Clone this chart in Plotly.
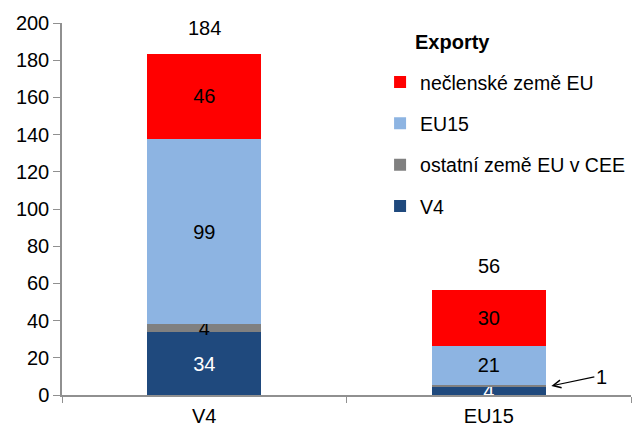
import plotly.graph_objects as go

categories = ["V4", "EU15"]
series_names = ["V4", "ostatní země EU v CEE", "EU15", "nečlenské země EU"]
v4_values = [33.8, 4.3]
other_cee_values = [4.4, 1.1]
eu15_values = [99.3, 21.2]
non_eu_values = [46.1, 29.8]
totals = [184, 56]
colors = ["#1F497D", "#808080", "#8DB4E2", "#FF0000"]
label_colors = ["white", "black", "black", "black"]
legend_ranks = [4, 3, 2, 1]
y_ticks = [0, 20, 40, 60, 80, 100, 120, 140, 160, 180, 200]

series_values = [v4_values, other_cee_values, eu15_values, non_eu_values]
FONT = "Liberation Sans, Arial, sans-serif"
FS = 20

fig = go.Figure()
for name, vals, col, lc, rk in zip(series_names, series_values, colors, label_colors, legend_ranks):
    texts = [f"{round(v):d}" for v in vals]
    if name == "ostatní země EU v CEE":
        texts = [texts[0], ""]
    fig.add_trace(go.Bar(
        x=categories, y=vals, name=name, marker_color=col,
        marker_line_width=0,
        text=texts, textposition="inside", insidetextanchor="middle",
        constraintext="none", cliponaxis=False, textangle=0,
        textfont=dict(family=FONT, size=FS, color=lc),
        legendgroup=name, legendrank=rk, width=0.4,
        hoverinfo="skip",
    ))

for cat, tot in zip(categories, totals):
    fig.add_annotation(x=cat, y=tot, text=str(tot), showarrow=False,
                       yanchor="middle", yshift=25,
                       font=dict(family=FONT, size=FS, color="black"))

# label "1" for the small grey segment of EU15 with arrow
fig.add_annotation(x=1.22, y=v4_values[1] + other_cee_values[1] - 0.5,
                   text=f"{round(other_cee_values[1])}", showarrow=True,
                   ax=43, ay=-9, arrowhead=5, arrowsize=1.3, arrowwidth=1.2,
                   arrowcolor="black", xanchor="left",
                   font=dict(family=FONT, size=FS, color="black"))

fig.add_annotation(xref="paper", yref="paper", x=0.616, y=0.949,
                   text="<b>Exporty</b>", showarrow=False, xanchor="left",
                   yanchor="middle", font=dict(family=FONT, size=FS, color="black"))

fig.update_layout(
    width=633, height=425,
    barmode="stack",
    paper_bgcolor="white", plot_bgcolor="white",
    margin=dict(l=62, r=2, t=23, b=30, autoexpand=False),
    font=dict(family=FONT, size=FS, color="black"),
    showlegend=True,
    legend=dict(x=0.559, y=0.893, xanchor="left", yanchor="top",
                traceorder="grouped", tracegroupgap=13,
                font=dict(family=FONT, size=19.5, color="black"),
                bgcolor="rgba(0,0,0,0)"),
)
fig.update_xaxes(showline=True, linecolor="#909090", linewidth=1.5,
                 ticks="outside", tickson="boundaries", ticklen=6,
                 tickcolor="#909090", showgrid=False, ticklabelstandoff=2,
                 automargin=False,
                 tickfont=dict(family=FONT, size=FS, color="black"))
fig.update_yaxes(range=[0, 200], tickvals=y_ticks, showline=True,
                 linecolor="#909090", linewidth=1.5, ticks="outside",
                 ticklen=7, tickcolor="#909090", showgrid=False,
                 zeroline=False, automargin=False,
                 tickfont=dict(family=FONT, size=FS, color="black"))

fig.write_html("out.html", config={"displayModeBar": False},
               post_script="document.body.style.margin='0';document.body.style.overflow='hidden';")
